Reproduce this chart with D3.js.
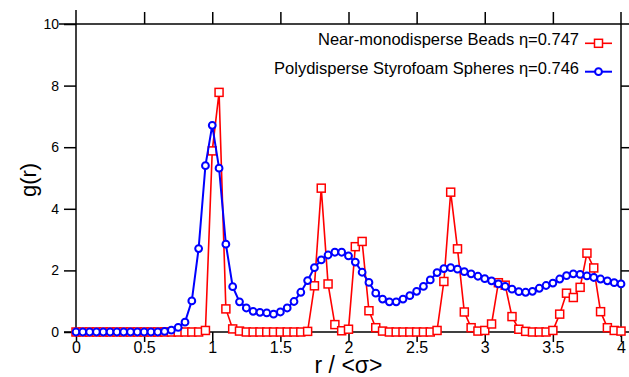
<!DOCTYPE html>
<html>
<head>
<meta charset="utf-8">
<script src="https://d3js.org/d3.v7.min.js"></script>
<style>
  body { margin: 0; background: #fff; }
  text { font-family: "Liberation Sans", Arial, sans-serif; fill: #000; }
</style>
</head>
<body>
<div id="chart"></div>
<script>
// r / <sigma> sample positions
const rValues = [
  0, 0.05, 0.1, 0.15, 0.2, 0.25, 0.3, 0.35, 0.4, 0.45,
  0.5, 0.55, 0.6, 0.65, 0.7, 0.75, 0.8, 0.85, 0.9, 0.95,
  1, 1.05, 1.1, 1.15, 1.2, 1.25, 1.3, 1.35, 1.4, 1.45,
  1.5, 1.55, 1.6, 1.65, 1.7, 1.75, 1.8, 1.85, 1.9, 1.95,
  2, 2.05, 2.1, 2.15, 2.2, 2.25, 2.3, 2.35, 2.4, 2.45,
  2.5, 2.55, 2.6, 2.65, 2.7, 2.75, 2.8, 2.85, 2.9, 2.95,
  3, 3.05, 3.1, 3.15, 3.2, 3.25, 3.3, 3.35, 3.4, 3.45,
  3.5, 3.55, 3.6, 3.65, 3.7, 3.75, 3.8, 3.85, 3.9, 3.95,
  4
];

// Near-monodisperse beads, eta = 0.747
const beadsG = [
  0, 0, 0, 0, 0, 0, 0, 0, 0, 0,
  0, 0, 0, 0, 0, 0, 0, 0, 0, 0.05,
  5.88, 7.78, 0.75, 0.10, 0.03, 0, 0, 0, 0, 0,
  0, 0, 0, 0, 0.02, 1.50, 4.67, 1.56, 0.24, 0.04,
  0.09, 2.77, 2.94, 0.69, 0.14, 0.03, 0, 0, 0, 0,
  0, 0, 0, 0.05, 1.64, 4.54, 2.70, 0.65, 0.14, 0.03,
  0.05, 0.26, 1.60, 1.52, 0.50, 0.09, 0.02, 0, 0, 0,
  0.05, 0.58, 1.26, 1.12, 1.45, 2.56, 2.08, 0.66, 0.14, 0.05,
  0.03
];

// Polydisperse styrofoam spheres, eta = 0.746
const foamG = [
  0, 0, 0, 0, 0, 0, 0, 0, 0, 0,
  0, 0, 0, 0.02, 0.06, 0.15, 0.32, 1.01, 2.71, 5.40,
  6.71, 5.32, 2.85, 1.47, 0.98, 0.78, 0.67, 0.64, 0.62, 0.58,
  0.65, 0.78, 0.99, 1.29, 1.67, 2.09, 2.34, 2.50, 2.59, 2.59,
  2.47, 2.27, 1.94, 1.61, 1.26, 1.07, 0.98, 0.98, 1.07, 1.18,
  1.32, 1.48, 1.69, 1.93, 2.06, 2.09, 2.04, 1.96, 1.89, 1.81,
  1.73, 1.66, 1.56, 1.48, 1.39, 1.31, 1.29, 1.32, 1.42, 1.51,
  1.59, 1.72, 1.83, 1.89, 1.87, 1.82, 1.77, 1.72, 1.66, 1.60,
  1.56
];

const xTicks = [0, 0.5, 1, 1.5, 2, 2.5, 3, 3.5, 4];
const yTicks = [0, 2, 4, 6, 8, 10];

const seriesNames = [
  "Near-monodisperse Beads \u03b7=0.747",
  "Polydisperse Styrofoam Spheres \u03b7=0.746"
];

const width = 629, height = 377;
const margin = { top: 24, right: 8, bottom: 45, left: 76 };

const svg = d3.select("#chart").append("svg")
  .attr("width", width)
  .attr("height", height);

const x = d3.scaleLinear().domain([0, 4]).range([margin.left, width - margin.right]);
const y = d3.scaleLinear().domain([0, 10]).range([height - margin.bottom, margin.top]);

const fmt = d => String(d);

// axes
const axLeft = svg.append("g")
  .attr("transform", `translate(${x(0)},0)`)
  .call(d3.axisLeft(y).tickValues(yTicks).tickSize(12).tickPadding(5).tickFormat(fmt));
const axRight = svg.append("g")
  .attr("transform", `translate(${x(4)},0)`)
  .call(d3.axisRight(y).tickValues(yTicks.slice(1, 5)).tickSize(10).tickFormat(""));
const axTop = svg.append("g")
  .attr("transform", `translate(0,${y(10)})`)
  .call(d3.axisTop(x).tickValues(xTicks.slice(1, 8)).tickSize(12).tickFormat(""));
const axBottom = svg.append("g")
  .attr("transform", `translate(0,${y(0)})`)
  .call(d3.axisBottom(x).tickValues(xTicks).tickSize(10).tickPadding(0).tickFormat(fmt));

[axLeft, axRight, axTop, axBottom].forEach(g => {
  g.select(".domain").remove();
  g.selectAll(".tick line").attr("stroke", "#000").attr("stroke-width", 1.5);
  g.selectAll(".tick text")
    .style("font-family", '"Liberation Sans", Arial, sans-serif')
    .style("font-size", "14px");
});
axBottom.selectAll(".tick text").style("font-size", "16px");

// frame lines (crossing past the corners like the original)
const frame = svg.append("g").attr("stroke", "#000").attr("stroke-width", 1.5);
frame.append("line").attr("x1", x(0)).attr("x2", x(0)).attr("y1", y(10) - 14).attr("y2", y(0));
frame.append("line").attr("x1", x(4)).attr("x2", x(4)).attr("y1", y(10) - 12).attr("y2", y(0) + 5);
frame.append("line").attr("x1", x(0) - 17).attr("x2", width).attr("y1", y(10)).attr("y2", y(10));
frame.append("line").attr("x1", x(0) - 12).attr("x2", width).attr("y1", y(0)).attr("y2", y(0));

// axis titles
svg.append("text")
  .attr("x", (x(0) + x(4)) / 2)
  .attr("y", 373)
  .attr("text-anchor", "middle")
  .style("font-size", "23px")
  .text("r / <\u03c3>");
svg.append("text")
  .attr("transform", `translate(36,${(y(0) + y(10)) / 2 + 2}) rotate(-90)`)
  .attr("text-anchor", "middle")
  .style("font-size", "22px")
  .text("g(r)");

const line = d3.line().x(d => x(d[0])).y(d => y(d[1]));

const beads = rValues.map((r, i) => [r, beadsG[i]]);
const foam = rValues.map((r, i) => [r, foamG[i]]);

const red = "#ff0000", blue = "#0000ff";

// beads: red squares
svg.append("path").datum(beads)
  .attr("fill", "none").attr("stroke", red).attr("stroke-width", 1.6)
  .attr("d", line);
svg.append("g").selectAll("rect").data(beads).enter().append("rect")
  .attr("x", d => x(d[0]) - 4)
  .attr("y", d => y(d[1]) - 4)
  .attr("width", 8).attr("height", 8)
  .attr("fill", "#fff").attr("stroke", red).attr("stroke-width", 1.5);

// foam: blue circles
svg.append("path").datum(foam)
  .attr("fill", "none").attr("stroke", blue).attr("stroke-width", 2)
  .attr("d", line);
svg.append("g").selectAll("circle").data(foam).enter().append("circle")
  .attr("cx", d => x(d[0]))
  .attr("cy", d => y(d[1]))
  .attr("r", 3.4)
  .attr("fill", "#fff").attr("stroke", blue).attr("stroke-width", 2);

// legend
const legend = svg.append("g");
const legY = [43.3, 71.7];
const legX = 579;
seriesNames.forEach((name, i) => {
  legend.append("text")
    .attr("x", legX).attr("y", legY[i] + 2)
    .attr("text-anchor", "end")
    .style("font-size", "16.5px")
    .text(name);
  const col = i === 0 ? red : blue;
  legend.append("line")
    .attr("x1", legX + 6).attr("x2", legX + 33)
    .attr("y1", legY[i]).attr("y2", legY[i])
    .attr("stroke", col).attr("stroke-width", i === 0 ? 1.6 : 2);
  if (i === 0) {
    legend.append("rect")
      .attr("x", legX + 19.5 - 4).attr("y", legY[i] - 4)
      .attr("width", 8).attr("height", 8)
      .attr("fill", "#fff").attr("stroke", col).attr("stroke-width", 1.5);
  } else {
    legend.append("circle")
      .attr("cx", legX + 19.5).attr("cy", legY[i]).attr("r", 3.4)
      .attr("fill", "#fff").attr("stroke", col).attr("stroke-width", 2);
  }
});
</script>
</body>
</html>
